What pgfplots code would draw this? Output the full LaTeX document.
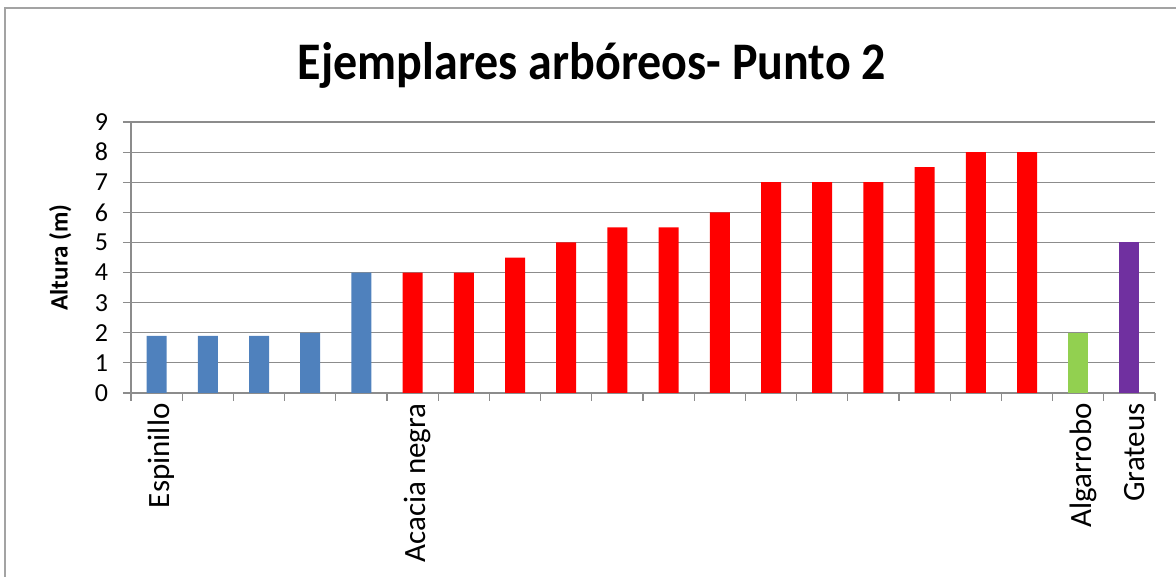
\documentclass[border=0pt]{standalone}
\usepackage{fontspec}
\setmainfont{Carlito}
\usepackage{pgfplots}
\pgfplotsset{compat=1.18}
\definecolor{cblue}{HTML}{4F81BD}
\definecolor{cred}{HTML}{FF0000}
\definecolor{cgreen}{HTML}{92D050}
\definecolor{cpurple}{HTML}{7030A0}
\definecolor{cgrid}{HTML}{8C8C8C}
\begin{document}
\begin{tikzpicture}
\useasboundingbox (0,0) rectangle (588pt,288.5pt);
\draw[color=cgrid!80, line width=1.2pt] (2.5pt,0) -- (2.5pt,284.5pt) -- (588pt,284.5pt);
\node[font=\fontsize{24}{28}\selectfont\bfseries, anchor=center, yscale=1.1] at (296pt,256pt) {Ejemplares arbóreos- Punto 2};
\begin{axis}[
  at={(65.5pt,92pt)}, anchor=south west,
  scale only axis, width=512pt, height=135.5pt,
  xmin=0.5, xmax=20.5, ymin=0, ymax=9,
  axis lines=left, axis line style={-, color=cgrid, line width=0.6pt},
  ytick={0,1,...,9},
  ymajorgrids, grid style={color=cgrid, line width=0.6pt},
  xtick={0.5,1.5,...,20.5}, xticklabels={},
  tick align=outside, major tick length=4pt,
  tick style={color=cgrid, line width=0.6pt},
  extra x ticks={1,6,19,20},
  extra x tick labels={Espinillo,Acacia negra,Algarrobo,Grateus},
  extra x tick style={major tick length=0pt, grid=none,
    tick label style={rotate=90, anchor=east, font=\fontsize{15.5}{17}\selectfont, inner sep=0pt, xshift=-5pt, yshift=-2.5pt}},
  yticklabel style={font=\fontsize{13}{15}\selectfont, xshift=-4pt},
  /pgf/number format/assume math mode=true,
  ylabel={\bfseries Altura (m)},
  ylabel style={at={(axis description cs:-0.069,0.5)}, anchor=center, font=\fontsize{12.5}{14}\selectfont},
  bar width=10pt,
  ybar=0pt, bar shift=0pt,
]
\addplot[ybar, fill=cblue, draw=none] coordinates {(1,1.9) (2,1.9) (3,1.9) (4,2) (5,4)};
\addplot[ybar, fill=cred, draw=none] coordinates {(6,4) (7,4) (8,4.5) (9,5) (10,5.5) (11,5.5) (12,6) (13,7) (14,7) (15,7) (16,7.5) (17,8) (18,8)};
\addplot[ybar, fill=cgreen, draw=none] coordinates {(19,2)};
\addplot[ybar, fill=cpurple, draw=none] coordinates {(20,5)};
\end{axis}
\end{tikzpicture}
\end{document}
